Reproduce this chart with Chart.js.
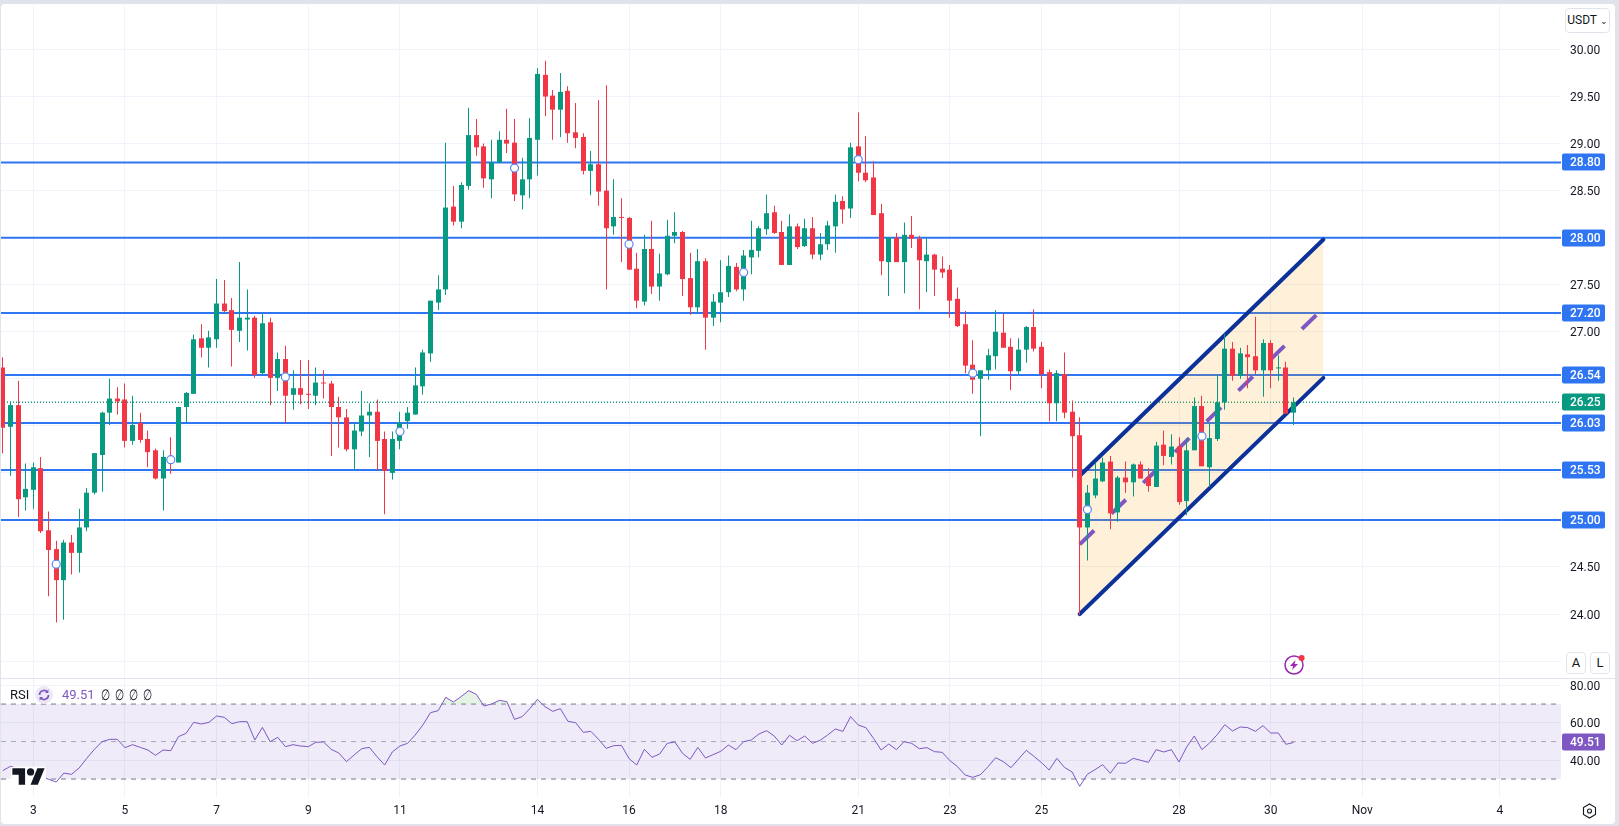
<!DOCTYPE html>
<html>
<head>
<meta charset="utf-8">
<title>USDT 4h chart</title>
<script src="https://cdn.jsdelivr.net/npm/chart.js@4/dist/chart.umd.min.js"></script>
<style>
  html, body { margin: 0; padding: 0; width: 1619px; height: 826px; overflow: hidden; background: #e0e3eb; font-family: Roboto, sans-serif; color: #131722; }
  #panel { position: absolute; left: 1px; top: 4px; width: 1614px; height: 820px; background: #fff; border-radius: 4px; }
  #priceChart { position: absolute; left: 1px; top: 3px; }
  #rsiChart { position: absolute; left: 1px; top: 678px; }
  .divider { position: absolute; left: 1px; top: 678px; width: 1614px; height: 1px; background: #e0e3eb; }
  .btn { position: absolute; background: #fff; border: 1px solid #e0e3eb; border-radius: 4px; box-sizing: border-box; font-size: 12px; text-align: center; }
  .legend { position: absolute; top: 687px; height: 16px; line-height: 16px; font-size: 13px; white-space: nowrap; }
  .empty { font-size: 15px; transform: scaleX(0.7); }
  svg { position: absolute; overflow: visible; }
</style>
</head>
<body>
<div id="panel"></div>
<canvas id="priceChart" width="1614" height="675"></canvas>
<canvas id="rsiChart" width="1614" height="146"></canvas>
<div class="divider"></div>

<div class="btn" style="left:1565px;top:8px;width:45px;height:25px;line-height:23px;">USDT <span style="font-size:9px;">&#8964;</span></div>
<div class="btn" style="left:1566px;top:652px;width:20px;height:22px;line-height:20px;font-size:13px;">A</div>
<div class="btn" style="left:1590px;top:652px;width:20px;height:22px;line-height:20px;font-size:13px;">L</div>

<div class="legend" style="left:10px;">RSI</div>
<svg style="left:35px;top:686px;" width="18" height="18" viewBox="0 0 18 18">
  <circle cx="9" cy="9" r="9" fill="#ede7f6"/>
  <path d="M4.5 9a4.5 4.5 0 0 1 8-2.8M13.5 9a4.5 4.5 0 0 1-8 2.8" fill="none" stroke="#7e57c2" stroke-width="1.7"/>
  <path d="M13.4 3.6v3.4h-3.4zM4.6 14.4v-3.4h3.4z" fill="#7e57c2"/>
</svg>
<div class="legend" style="left:62px;color:#7e57c2;">49.51</div>
<div class="legend empty" style="left:99px;">&#8709;</div>
<div class="legend empty" style="left:113px;">&#8709;</div>
<div class="legend empty" style="left:127px;">&#8709;</div>
<div class="legend empty" style="left:141px;">&#8709;</div>

<!-- logo -->
<svg style="left:11px;top:766px;" width="35" height="20" viewBox="-1.5 2 38.5 21">
  <rect x="-1.5" y="2" width="38.5" height="21" rx="3" fill="#fff"/>
  <path d="M14 22H7V11H0V4h14v18zM28 22h-8l7.5-18h8L28 22z" fill="#131722"/>
  <circle cx="20" cy="8" r="4" fill="#131722"/>
</svg>

<!-- lightning button -->
<svg style="left:1284px;top:655px;" width="20" height="20" viewBox="0 0 20 20">
  <circle cx="10" cy="10" r="9" fill="#fff" stroke="#9c27b0" stroke-width="1.5"/>
  <path d="M11.5 5L6 11h3.2L8 15l6-6h-3.4z" fill="#9c27b0"/>
  <circle cx="17.6" cy="3" r="3" fill="#f23645"/>
</svg>

<!-- settings button -->
<svg style="left:1582px;top:803px;" width="15" height="16" viewBox="0 0 15 16">
  <path d="M7.5 1L13.5 4.5V11.5L7.5 15L1.5 11.5V4.5Z" fill="none" stroke="#131722" stroke-width="1.1"/>
  <circle cx="7.5" cy="8" r="2" fill="none" stroke="#131722" stroke-width="1.1"/>
</svg>

<script>
// Candles, 4h, one value per candle
const opens = [
  26.62,25.99,26.22,25.24,25.32,25.55,24.89,24.69,24.36,24.76,
  24.65,24.92,25.29,25.69,26.14,26.29,26.28,25.84,26.03,25.86,
  25.74,25.44,25.67,25.61,26.20,26.34,26.93,26.83,26.92,27.30,
  27.23,27.01,27.13,27.15,26.56,27.10,26.51,26.71,26.33,26.40,
  26.34,26.32,26.46,26.45,26.20,26.09,25.75,25.94,26.11,26.15,
  25.86,25.50,25.84,26.05,26.12,26.42,26.77,27.31,27.45,28.33,
  28.17,28.55,29.09,28.97,28.62,28.80,29.04,29.01,28.45,28.62,
  29.04,29.73,29.51,29.36,29.56,29.12,29.07,28.71,28.78,28.50,
  28.12,28.22,28.21,27.67,27.32,27.88,27.48,27.61,28.02,28.06,
  27.57,27.26,27.75,27.15,27.31,27.42,27.69,27.45,27.79,27.86,
  28.09,28.27,28.06,27.71,28.12,27.91,28.10,27.82,27.93,28.12,
  28.39,28.31,28.97,28.69,28.64,28.26,27.74,28.00,27.74,28.03,
  27.99,27.75,27.82,27.67,27.66,27.35,27.08,26.65,26.50,26.59,
  26.74,26.99,26.84,26.58,26.81,27.05,26.84,26.57,26.24,26.55,
  26.15,25.90,24.92,25.26,25.41,25.62,25.08,25.45,25.40,25.59,
  25.45,25.35,25.80,25.67,25.78,25.20,25.74,26.21,25.56,25.86,
  26.25,26.82,26.53,26.76,26.74,26.59,26.88,26.61,26.62,26.14
];
const highs = [
  26.73,26.26,26.48,25.60,25.61,25.67,25.09,24.78,24.79,24.84,
  25.12,25.34,25.71,26.15,26.50,26.41,26.45,26.32,26.14,25.95,
  25.76,25.74,25.88,26.20,26.36,26.97,27.08,27.01,27.56,27.55,
  27.36,27.74,27.45,27.17,27.19,27.15,26.78,26.85,26.59,26.70,
  26.70,26.62,26.59,26.48,26.31,26.18,26.03,26.37,26.24,26.28,
  25.94,25.94,26.15,26.20,26.62,26.81,27.33,27.60,29.01,28.55,
  28.59,29.38,29.26,29.00,29.04,29.13,29.37,29.26,28.85,29.27,
  29.80,29.88,29.57,29.75,29.61,29.43,29.11,28.92,29.46,29.62,
  28.62,28.42,28.22,27.84,28.03,28.18,27.83,28.19,28.27,28.07,
  27.84,27.88,27.78,27.40,27.76,27.81,27.73,27.87,28.18,28.12,
  28.46,28.34,28.18,28.25,28.15,28.20,28.22,28.05,28.18,28.46,
  28.44,29.01,29.33,29.08,28.81,28.36,28.00,28.05,28.16,28.23,
  28.02,28.00,27.83,27.80,27.71,27.47,27.22,26.91,26.59,26.82,
  27.23,27.19,26.93,26.93,27.06,27.24,26.89,26.60,26.59,26.78,
  26.27,26.09,25.37,25.61,25.66,25.68,25.47,25.62,25.60,25.62,
  25.55,25.83,25.95,25.91,25.88,25.87,26.30,26.32,26.02,26.54,
  26.98,26.89,26.83,26.86,27.16,26.92,26.91,26.75,26.68,26.30
];
const lows = [
  25.71,25.47,25.03,25.10,25.12,24.86,24.19,23.91,23.94,24.42,
  24.44,24.88,25.27,25.30,26.01,26.12,25.77,25.80,25.82,25.56,
  25.43,25.10,25.49,25.61,26.04,26.34,26.73,26.62,26.83,27.21,
  26.63,26.89,26.80,26.51,26.54,26.22,26.37,26.03,26.17,26.23,
  26.18,26.22,26.29,25.68,25.77,25.73,25.53,25.89,25.67,25.53,
  25.06,25.43,25.75,25.97,26.12,26.33,26.68,27.23,27.39,28.13,
  28.10,28.51,28.87,28.53,28.42,28.79,28.90,28.39,28.30,28.42,
  28.66,29.29,29.04,29.07,29.01,28.95,28.67,28.45,28.34,27.45,
  28.03,27.74,27.66,27.25,27.28,27.40,27.33,27.60,27.94,27.38,
  27.18,27.20,26.81,27.06,27.10,27.37,27.43,27.33,27.61,27.79,
  28.03,28.04,27.71,27.71,27.88,27.90,27.77,27.76,27.87,27.84,
  28.15,28.21,28.60,28.59,28.24,27.60,27.38,27.74,27.41,27.89,
  27.24,27.42,27.38,27.57,27.15,27.05,26.56,26.34,25.89,26.49,
  26.60,26.83,26.38,26.54,26.67,26.79,26.40,26.05,26.05,26.08,
  25.45,23.99,24.57,25.23,25.40,24.90,24.98,25.29,25.25,25.44,
  25.30,25.35,25.58,25.59,25.16,25.05,25.74,25.57,25.35,25.84,
  26.17,26.48,26.50,26.40,26.55,26.31,26.40,26.48,26.13,26.01
];
const closes = [
  25.98,26.22,25.22,25.33,25.56,24.88,24.68,24.36,24.76,24.65,
  24.92,25.29,25.71,26.14,26.29,26.26,25.84,26.01,25.85,25.72,
  25.44,25.67,25.60,26.20,26.35,26.92,26.83,26.94,27.30,27.22,
  27.02,27.15,27.15,26.54,27.09,26.51,26.71,26.32,26.40,26.33,
  26.33,26.46,26.45,26.20,26.09,25.75,25.95,26.11,26.15,25.84,
  25.52,25.86,26.03,26.14,26.43,26.78,27.33,27.45,28.32,28.17,
  28.56,29.09,28.96,28.63,28.80,29.04,29.00,28.46,28.62,29.06,
  29.74,29.50,29.36,29.55,29.11,29.06,28.71,28.78,28.49,28.10,
  28.22,28.21,27.66,27.33,27.88,27.48,27.62,28.02,28.06,27.56,
  27.26,27.75,27.15,27.32,27.42,27.70,27.45,27.81,27.87,28.10,
  28.26,28.05,27.71,28.12,27.90,28.10,27.82,27.93,28.13,28.38,
  28.30,28.96,28.69,28.61,28.24,27.75,28.00,27.74,28.03,27.99,
  27.76,27.82,27.66,27.63,27.33,27.06,26.64,26.49,26.59,26.75,
  27.00,26.83,26.58,26.81,27.05,26.82,26.55,26.24,26.56,26.14,
  25.89,24.92,25.29,25.44,25.61,25.07,25.45,25.40,25.59,25.44,
  25.36,25.79,25.68,25.78,25.19,25.74,26.21,25.57,25.87,26.25,
  26.82,26.53,26.77,26.73,26.59,26.88,26.59,26.62,26.13,26.25
];
const rsiValues = [
  34.5,36.8,35.7,33.9,32.7,31.3,29.9,28.4,33.2,32.5,
  35.9,41.05,45.85,49.93,51.18,51.18,46.73,48.33,46.9,45.49,
  42.65,45.49,45.13,52.6,54.38,60.25,59.36,60.25,63.62,62.91,
  59.53,60.6,60.6,50.82,57.58,49.93,52.25,47.27,48.33,47.62,
  47.27,49.58,49.76,45.85,43.89,39.27,42.82,46.2,46.9,41.93,
  37.49,44.42,47.62,49.05,53.49,58.82,65.4,66.47,73.58,71.09,
  73.93,77.13,75.18,68.96,70.02,71.98,71.27,61.85,63.27,67.53,
  72.51,68.6,66.11,67.53,60.78,60.07,54.91,55.44,51.18,46.38,
  47.8,47.98,40.87,37.49,45.85,41.58,43.36,49.05,49.76,43.7,
  40.52,46.92,41.23,43.01,44.79,48.16,45.67,49.94,50.83,54.03,
  55.81,52.96,48.16,53.32,50.47,52.96,49.05,50.65,53.5,56.7,
  55.45,63.27,58.83,57.41,51.72,45.5,48.7,45.67,49.94,49.05,
  46.21,46.74,44.61,44.25,39.81,36.61,32.16,30.92,32.34,36.61,
  41.41,39.27,36.07,40.7,45.32,42.12,38.74,34.83,41.05,36.25,
  33.76,26.12,32.52,35.01,37.67,33.05,38.56,38.39,41.05,39.99,
  38.92,45.67,44.43,45.67,39.1,47.1,52.96,45.67,49.23,53.67,
  59.01,55.63,57.76,57.41,55.45,58.47,54.56,54.56,48.52,49.51
];

// Horizontal support and resistance levels
const levels = [28.80, 28.00, 27.20, 26.54, 26.03, 25.53, 25.00];
const lastPrice = 26.25;
const lastRsi = 49.51;

// Rising channel, candle index of each end and the prices there
const channelEnds = [141, 172.9];
const channelTop = [25.47, 27.98];
const channelMid = [24.74, 27.25];
const channelBottom = [24.00, 26.51];

// Small ring markers on the candles
const markerIndexes = [7, 22, 37, 52, 67, 82, 97, 112, 127, 142, 157];
const markerPrices = [24.53, 25.64, 26.52, 25.94, 28.74, 27.93, 27.63, 28.83, 26.56, 25.11, 25.89];

// Axis labels
const priceTicks = [30, 29.5, 29, 28.5, 28, 27.5, 27, 26.5, 26, 25.5, 25, 24.5, 24, 23.5];
const unlabeledPrices = [28, 26.5, 26, 25.5, 25, 23.5];
const rsiTicks = [80, 60, 40];
const rsiBands = [70, 50, 30];
const dayIndexes = [4, 16, 28, 40, 52, 70, 82, 94, 112, 124, 136, 154, 166, 178, 196];
const dayLabels = ['3', '5', '7', '9', '11', '14', '16', '18', '21', '23', '25', '28', '30', 'Nov', '4'];

const xMin = -0.23;
const xMax = 204.01;

const green = '#089981';
const red = '#f23645';
const blue = '#2f75f2';
const navy = '#0c3299';
const purple = '#7e57c2';
const gridColor = '#f0f3fa';
const textColor = '#131722';

const candleColors = opens.map((open, i) => closes[i] >= open ? green : red);

// Function to build a straight line between two x values
function lineBetween(xs, ys) {
  return xs.map((x, i) => ({ x: x, y: ys[i] }));
}

// Function to build a full width horizontal line dataset
function horizontalLine(value, color, width, dash, order) {
  return {
    type: 'line',
    data: lineBetween([xMin, xMax], [value, value]),
    borderColor: color,
    borderWidth: width,
    borderDash: dash,
    pointRadius: 0,
    order: order
  };
}

// Function to build the shared x scale of both panes
function xScale(height, showLabels) {
  return {
    type: 'linear',
    min: xMin,
    max: xMax,
    offset: false,
    afterBuildTicks: scale => { scale.ticks = dayIndexes.map(value => ({ value: value })); },
    afterFit: scale => {
      scale.paddingLeft = 0;
      scale.paddingRight = 0;
      scale.height = height;
    },
    grid: { color: gridColor, drawTicks: false, offset: false },
    border: { display: false },
    ticks: {
      display: showLabels,
      autoSkip: false,
      maxRotation: 0,
      padding: 8,
      color: textColor,
      font: { family: 'Roboto', size: 12, lineHeight: 1 },
      callback: value => dayLabels[dayIndexes.indexOf(value)]
    }
  };
}

// Function to build the y scale of a pane
function yScale(min, max, tickValues, labelFor) {
  return {
    type: 'linear',
    position: 'right',
    min: min,
    max: max,
    afterBuildTicks: scale => { scale.ticks = tickValues.map(value => ({ value: value })); },
    afterFit: scale => {
      scale.paddingTop = 0;
      scale.paddingBottom = 0;
      scale.width = 54;
    },
    grid: { color: gridColor, drawTicks: false },
    border: { display: false },
    ticks: {
      padding: 9,
      color: textColor,
      // the blank first line moves each label down by half of this small line height
      font: { family: 'Roboto', size: 12, lineHeight: 0.25 },
      callback: value => {
        const label = labelFor(value);
        return label ? ['', label] : '';
      }
    }
  };
}

// Keep the candles on whole pixels, so thin wicks stay sharp
const snapCandles = {
  id: 'snapCandles',
  beforeDatasetsDraw(chart) {
    chart.getSortedVisibleDatasetMetas().forEach(meta => {
      if (meta.type === 'bar') {
        meta.data.forEach(bar => { bar.x = Math.floor(bar.x) + 0.5; });
      }
    });
  }
};

// Function to draw a colored label on the price axis
function drawAxisLabel(ctx, scale, value, color, text) {
  const y = Math.round(scale.getPixelForValue(value));
  ctx.fillStyle = color;
  ctx.beginPath();
  ctx.roundRect(scale.left + 1, y - 8.5, 43, 17, 2);
  ctx.fill();
  ctx.fillStyle = '#fff';
  ctx.font = '500 12px Roboto';
  ctx.textAlign = 'left';
  ctx.textBaseline = 'middle';
  ctx.fillText(text, scale.left + 9, y + 0.5);
}

const priceLabels = {
  id: 'priceLabels',
  afterDraw(chart) {
    chart.ctx.save();
    levels.forEach(level => drawAxisLabel(chart.ctx, chart.scales.y, level, blue, level.toFixed(2)));
    drawAxisLabel(chart.ctx, chart.scales.y, lastPrice, green, lastPrice.toFixed(2));
    chart.ctx.restore();
  }
};

const rsiLabel = {
  id: 'rsiLabel',
  afterDraw(chart) {
    chart.ctx.save();
    drawAxisLabel(chart.ctx, chart.scales.y, lastRsi, purple, lastRsi.toFixed(2));
    chart.ctx.restore();
  }
};

const priceDatasets = [];

// Levels and last price, lowest layer
levels.forEach(level => priceDatasets.push(horizontalLine(level, blue, 2, [], 60)));
priceDatasets.push(horizontalLine(lastPrice, green, 1.5, [1, 2], 59));

// Channel
priceDatasets.push({
  type: 'line',
  data: lineBetween(channelEnds, channelTop),
  borderColor: navy,
  borderWidth: 4,
  borderCapStyle: 'round',
  pointRadius: 0,
  backgroundColor: 'rgba(255, 152, 0, 0.15)',
  fill: '+1',
  order: 50
});
priceDatasets.push({
  type: 'line',
  data: lineBetween(channelEnds, channelBottom),
  borderColor: navy,
  borderWidth: 4,
  borderCapStyle: 'round',
  pointRadius: 0,
  order: 49
});
priceDatasets.push({
  type: 'line',
  data: lineBetween(channelEnds, channelMid),
  borderColor: purple,
  borderWidth: 4,
  borderDash: [20, 24.2],
  pointRadius: 0,
  order: 48
});

// Candle wicks and bodies
priceDatasets.push({
  type: 'bar',
  data: opens.map((open, i) => ({ x: i, y: [lows[i], highs[i]] })),
  backgroundColor: candleColors,
  barThickness: 1,
  inflateAmount: 0,
  grouped: false,
  order: 11
});
priceDatasets.push({
  type: 'bar',
  data: opens.map((open, i) => ({ x: i, y: [open, closes[i]] })),
  backgroundColor: candleColors,
  barThickness: 5,
  minBarLength: 1,
  inflateAmount: 0,
  grouped: false,
  order: 10
});

// Ring markers
priceDatasets.push({
  type: 'line',
  data: lineBetween(markerIndexes, markerPrices),
  showLine: false,
  pointRadius: 4,
  pointBorderWidth: 1.2,
  pointBorderColor: '#5b86f0',
  pointBackgroundColor: '#fff',
  order: 1
});

const rsiDatasets = [
  // RSI band
  Object.assign(horizontalLine(rsiBands[0], '#787b86', 1, [5, 5], 9), {
    backgroundColor: 'rgba(126, 87, 194, 0.12)',
    fill: '+1'
  }),
  horizontalLine(rsiBands[2], '#787b86', 1, [5, 5], 8),
  horizontalLine(rsiBands[1], 'rgba(120, 123, 134, 0.6)', 1, [5, 5], 7),
  // RSI line, with the small overbought fill above 70
  {
    type: 'line',
    data: rsiValues.map((value, i) => ({ x: i, y: value })),
    borderColor: purple,
    borderWidth: 1,
    pointRadius: 0,
    fill: { target: { value: rsiBands[0] }, above: 'rgba(76, 175, 80, 0.15)', below: 'transparent' },
    order: 6
  }
];

const baseOptions = {
  responsive: false,
  animation: false,
  events: [],
  layout: { padding: 0, autoPadding: false },
  plugins: { legend: { display: false }, tooltip: { enabled: false } }
};

new Chart(document.getElementById('priceChart'), {
  data: { datasets: priceDatasets },
  plugins: [snapCandles, priceLabels],
  options: Object.assign({}, baseOptions, {
    scales: {
      x: xScale(0, false),
      y: yScale(23.32, 30.494, priceTicks, value => unlabeledPrices.includes(value) ? '' : value.toFixed(2))
    }
  })
});

new Chart(document.getElementById('rsiChart'), {
  data: { datasets: rsiDatasets },
  plugins: [rsiLabel],
  options: Object.assign({}, baseOptions, {
    scales: {
      x: xScale(27, true),
      y: yScale(20.43, 83.89, rsiTicks, value => value.toFixed(2))
    }
  })
});
</script>
</body>
</html>
